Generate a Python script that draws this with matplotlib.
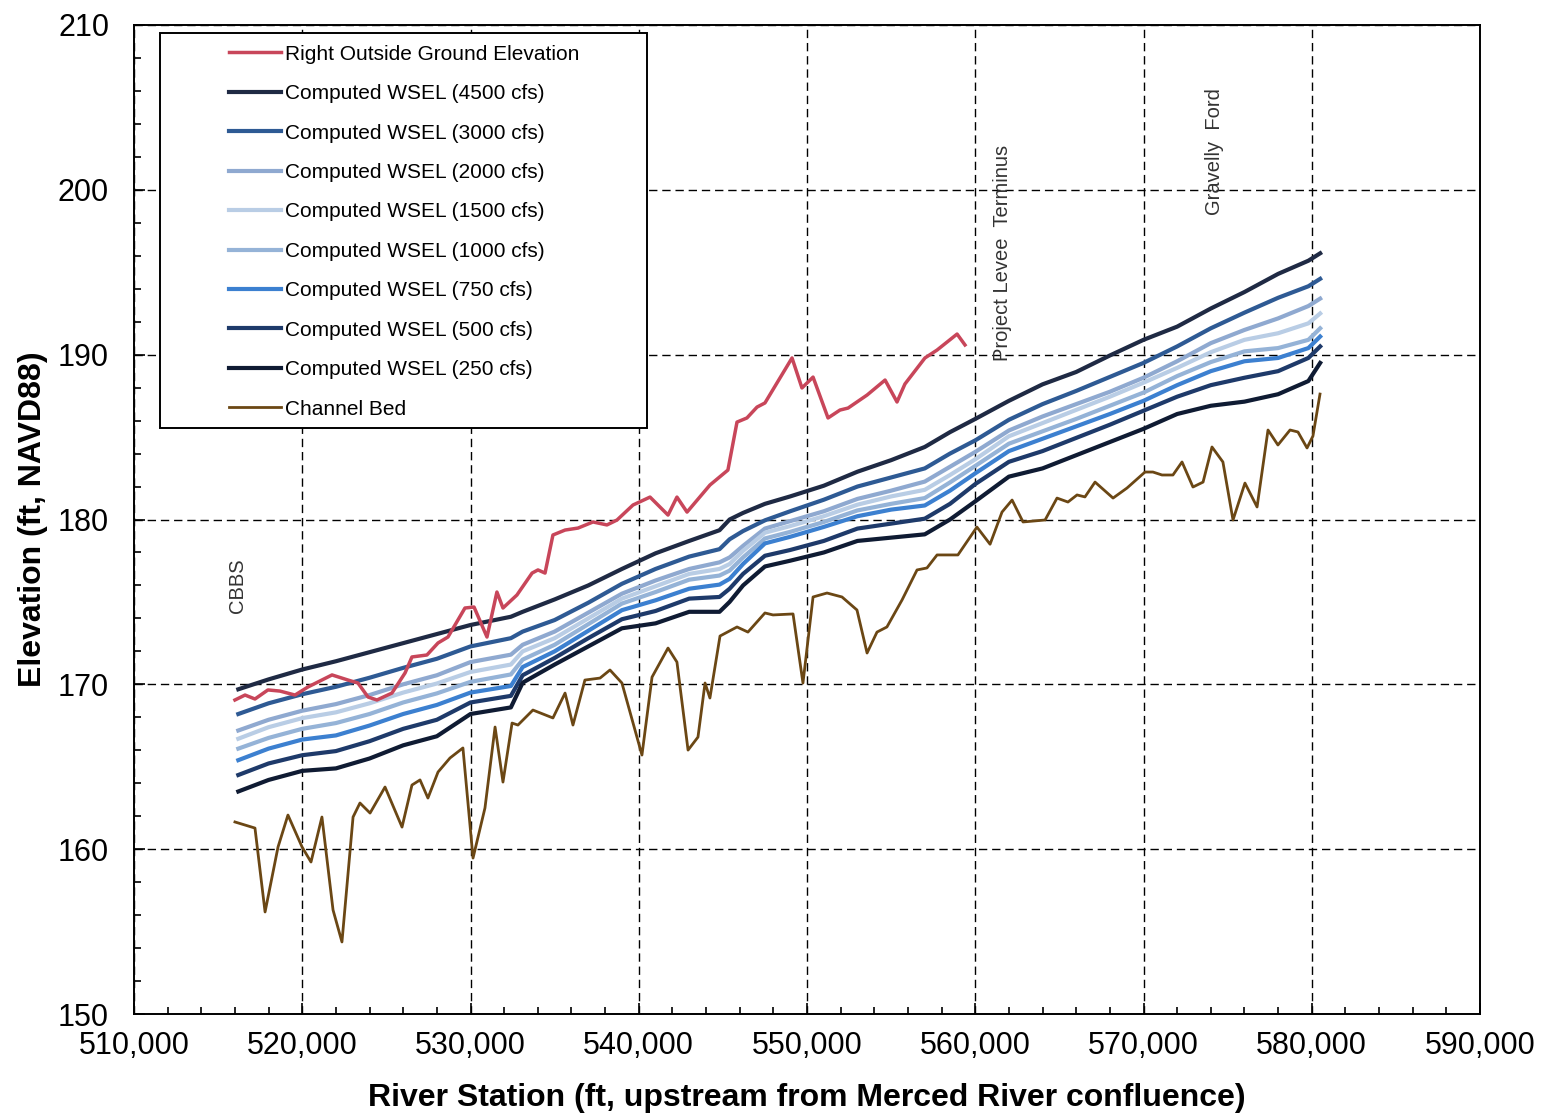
import numpy as np
import matplotlib.pyplot as plt
from matplotlib.patches import Rectangle
from matplotlib.ticker import MultipleLocator, FuncFormatter

plt.rcParams['font.family'] = ['Liberation Sans', 'DejaVu Sans']

# computed water surface profiles (river station in ft, elevation in ft NAVD88)
station = [516200, 518000, 520000, 522000, 524000, 526000, 528000, 530000, 532400, 533100,
           535000, 537000, 539000, 541000, 543000, 544800, 545400, 546200, 547500, 549000,
           551000, 553000, 555000, 557000, 558500, 560000, 562000, 564000, 566000, 568000,
           570000, 572000, 574000, 576000, 578000, 579800, 580500]

wsel_4500 = [169.7, 170.3, 170.9, 171.4, 171.95, 172.5, 173.05, 173.6, 174.1, 174.4,
             175.15, 176.0, 177.0, 177.95, 178.7, 179.35, 180.0, 180.4, 180.95, 181.4,
             182.05, 182.9, 183.6, 184.4, 185.3, 186.1, 187.2, 188.2, 188.95, 189.95,
             190.9, 191.7, 192.8, 193.8, 194.9, 195.7, 196.15]
wsel_3000 = [168.2, 168.85, 169.4, 169.85, 170.4, 171.0, 171.55, 172.3, 172.8, 173.2,
             173.9, 174.95, 176.1, 177.0, 177.75, 178.2, 178.8, 179.3, 179.95, 180.5,
             181.2, 182.0, 182.55, 183.1, 184.0, 184.8, 186.05, 187.0, 187.8, 188.65,
             189.5, 190.5, 191.6, 192.55, 193.45, 194.15, 194.6]
wsel_2000 = [167.2, 167.85, 168.4, 168.8, 169.35, 170.0, 170.55, 171.35, 171.8, 172.4,
             173.2, 174.35, 175.5, 176.3, 177.0, 177.4, 177.7, 178.4, 179.45, 179.9,
             180.5, 181.25, 181.75, 182.3, 183.2, 184.1, 185.4, 186.25, 187.0, 187.75,
             188.6, 189.6, 190.7, 191.5, 192.2, 192.95, 193.4]
wsel_1500 = [166.7, 167.4, 167.95, 168.3, 168.85, 169.5, 170.05, 170.75, 171.2, 172.0,
             172.8, 174.0, 175.2, 175.95, 176.7, 177.0, 177.3, 178.1, 179.2, 179.6,
             180.2, 180.9, 181.4, 181.8, 182.7, 183.65, 185.05, 185.85, 186.65, 187.45,
             188.3, 189.2, 190.15, 190.9, 191.3, 191.9, 192.5]
wsel_1000 = [166.1, 166.75, 167.3, 167.65, 168.2, 168.9, 169.45, 170.15, 170.6, 171.5,
             172.4, 173.65, 174.9, 175.6, 176.35, 176.6, 176.9, 177.7, 178.85, 179.25,
             179.85, 180.55, 180.95, 181.3, 182.25, 183.25, 184.6, 185.35, 186.1, 186.9,
             187.7, 188.7, 189.55, 190.2, 190.4, 190.9, 191.6]
wsel_750 = [165.4, 166.1, 166.65, 166.9, 167.5, 168.2, 168.75, 169.5, 169.9, 171.05,
            172.0, 173.25, 174.5, 175.1, 175.8, 176.05, 176.4, 177.3, 178.55, 178.95,
            179.55, 180.2, 180.6, 180.85, 181.75, 182.8, 184.15, 184.9, 185.65, 186.4,
            187.2, 188.15, 189.0, 189.6, 189.8, 190.4, 191.1]
wsel_500 = [164.5, 165.2, 165.7, 165.95, 166.55, 167.3, 167.85, 168.9, 169.3, 170.55,
            171.6, 172.8, 173.95, 174.45, 175.2, 175.3, 175.8, 176.7, 177.8, 178.15,
            178.7, 179.45, 179.75, 180.05, 180.95, 182.15, 183.5, 184.15, 184.95, 185.75,
            186.6, 187.45, 188.15, 188.6, 189.0, 189.8, 190.5]
wsel_250 = [163.5, 164.2, 164.75, 164.9, 165.5, 166.3, 166.85, 168.2, 168.6, 170.1,
            171.2, 172.3, 173.4, 173.7, 174.4, 174.4, 175.0, 176.0, 177.15, 177.5,
            178.0, 178.7, 178.9, 179.1, 180.0, 181.1, 182.6, 183.1, 183.9, 184.7,
            185.5, 186.4, 186.9, 187.15, 187.6, 188.4, 189.5]

# right outside ground elevation
ground_sta = [516000, 516600, 517190, 517960, 518680, 519570, 520340, 521770, 522720, 523310,
              523910, 524440, 525330, 526110, 526520, 527410, 528070, 528660, 529670, 530210,
              530980, 531570, 531930, 532760, 533660, 534010, 534430, 534900, 535620, 536390,
              537280, 538110, 538710, 539660, 540670, 541740, 542270, 542870, 544230, 545300,
              545840, 546430, 547030, 547500, 549110, 549700, 550360, 551250, 551960, 552440,
              553570, 554640, 555350, 555820, 557010, 557730, 558920, 559390]
ground_elev = [169.05, 169.35, 169.11, 169.66, 169.59, 169.35, 169.84, 170.57, 170.26, 170.08,
               169.23, 169.05, 169.47, 170.69, 171.66, 171.78, 172.51, 172.87, 174.63, 174.69,
               172.87, 175.60, 174.63, 175.42, 176.75, 176.94, 176.75, 179.06, 179.36, 179.48,
               179.85, 179.67, 179.97, 180.88, 181.36, 180.27, 181.36, 180.45, 182.09, 183.00,
               185.91, 186.16, 186.82, 187.07, 189.80, 187.98, 188.64, 186.16, 186.64, 186.76,
               187.55, 188.46, 187.13, 188.22, 189.80, 190.28, 191.25, 190.59]

# channel bed (thalweg)
bed_sta = [516000, 517190, 517790, 518560, 519150, 519990, 520520, 521170, 521830, 522360,
           523020, 523430, 524030, 524920, 525930, 526520, 527000, 527470, 528070, 528780,
           529550, 530150, 530860, 531460, 531930, 532470, 532820, 533710, 534900, 535620,
           536090, 536800, 537700, 538290, 539000, 540190, 540790, 541740, 542270, 542930,
           543520, 543940, 544230, 544830, 545840, 546490, 547500, 547980, 549170, 549760,
           550360, 551190, 552080, 552970, 553570, 554160, 554750, 555650, 556540, 557130,
           557730, 558970, 560100, 560880, 561590, 562190, 562840, 564150, 564860, 565510,
           566050, 566520, 567120, 568190, 569020, 570090, 570560, 571100, 571750, 572290,
           572940, 573540, 574070, 574720, 575320, 576030, 576750, 577400, 577990, 578710,
           579180, 579720, 580070, 580490]
bed_elev = [161.65, 161.28, 156.19, 160.13, 162.07, 160.13, 159.22, 161.95, 156.31, 154.37,
            161.95, 162.80, 162.19, 163.77, 161.34, 163.89, 164.20, 163.10, 164.68, 165.53,
            166.14, 159.46, 162.50, 167.41, 164.07, 167.65, 167.53, 168.44, 167.96, 169.47,
            167.53, 170.26, 170.38, 170.87, 170.08, 165.71, 170.44, 172.20, 171.35, 166.01,
            166.80, 170.08, 169.17, 172.93, 173.48, 173.17, 174.33, 174.21, 174.27, 170.08,
            175.30, 175.54, 175.30, 174.51, 171.90, 173.17, 173.48, 175.12, 176.94, 177.06,
            177.85, 177.85, 179.54, 178.50, 180.45, 181.18, 179.85, 179.97, 181.30, 181.06,
            181.49, 181.37, 182.27, 181.30, 181.91, 182.88, 182.88, 182.70, 182.70, 183.49,
            181.97, 182.27, 184.40, 183.49, 179.97, 182.21, 180.76, 185.43, 184.52, 185.43,
            185.31, 184.34, 185.06, 187.61]

flows = ['4500', '3000', '2000', '1500', '1000', '750', '500', '250']
wsel = [wsel_4500, wsel_3000, wsel_2000, wsel_1500, wsel_1000, wsel_750, wsel_500, wsel_250]
wsel_colors = ['#1F2A44', '#2E5A94', '#8FA9D0', '#B9CDE5', '#95B3D7', '#3C80D0', '#1E3A6A', '#0F1B33']

fig = plt.figure(figsize=(15.47, 11.16), dpi=100)
ax = fig.add_axes([134/1547, 1 - 1014/1116, 1346/1547, 989/1116])

handles = []
for q, vals, c in zip(flows, wsel, wsel_colors):
    ln, = ax.plot(station, vals, color=c, lw=3.0, zorder=3,
                  label='Computed WSEL (' + q + ' cfs)')
    handles.append(ln)
red, = ax.plot(ground_sta, ground_elev, color='#C8465A', lw=2.5, zorder=4,
               label='Right Outside Ground Elevation')
bed, = ax.plot(bed_sta, bed_elev, color='#6B4714', lw=2.0, zorder=3, label='Channel Bed')
handles = [red] + handles + [bed]

ax.set_xlim(510000, 590000)
ax.set_ylim(150, 210)
ax.xaxis.set_major_locator(MultipleLocator(10000))
ax.xaxis.set_minor_locator(MultipleLocator(2000))
ax.yaxis.set_major_locator(MultipleLocator(10))
ax.yaxis.set_minor_locator(MultipleLocator(2))
ax.xaxis.set_major_formatter(FuncFormatter(lambda v, p: f'{v:,.0f}'))
ax.tick_params(which='both', direction='in', labelsize=22, width=1.2)
ax.tick_params(which='major', length=8)
ax.tick_params(which='minor', length=5)
ax.tick_params(axis='y', pad=18)
ax.tick_params(axis='x', pad=12)
ax.grid(True, which='major', color='black', linestyle=(0, (6, 3.5)), linewidth=1.0)
for s in ax.spines.values():
    s.set_linewidth(1.4)

ax.set_xlabel('River Station (ft, upstream from Merced River confluence)',
              fontsize=23, fontweight='bold', labelpad=16)
ax.set_ylabel('Elevation (ft, NAVD88)', fontsize=23, fontweight='bold', labelpad=7)

# location markers
ax.text(516150, 176.0, 'CBBS', rotation=90, fontsize=14.5, ha='center', va='center', color='#333333')
ax.text(561600, 196.2, 'Project Levee  Terminus', rotation=90, fontsize=14.5,
        ha='center', va='center', color='#333333')
ax.text(574200, 202.3, 'Gravelly  Ford', rotation=90, fontsize=14.5,
        ha='center', va='center', color='#333333')

# legend box
box = Rectangle((26/1346, (1014-428)/989), (647-160)/1346, (428-33)/989,
                transform=ax.transAxes, facecolor='white', edgecolor='black',
                lw=1.4, zorder=5)
ax.add_patch(box)
leg = ax.legend(handles=handles, loc='upper left', bbox_to_anchor=(0.0705, 0.980),
                frameon=False, fontsize=15, handlelength=2.5, handletextpad=0.2,
                labelspacing=0.98, borderpad=0, borderaxespad=0)
leg.set_zorder(6)

plt.savefig('out.png', dpi=100)
